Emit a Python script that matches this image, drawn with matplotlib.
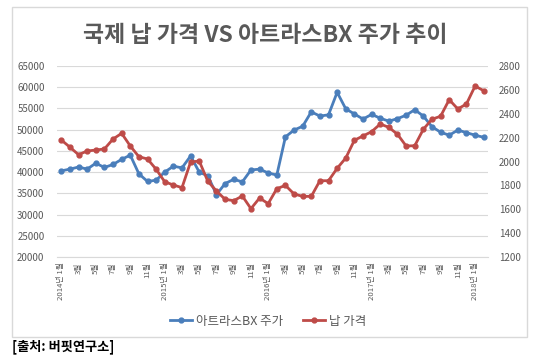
import matplotlib
matplotlib.use("Agg")
import matplotlib.pyplot as plt
from matplotlib.patches import Rectangle
from matplotlib.lines import Line2D

plt.rcParams['font.family'] = ['Noto Sans CJK KR', 'DejaVu Sans']

# ---- data ----
years = [2014, 2015, 2016, 2017, 2018]
months = []
for y in years:
    for m in range(1, 13):
        months.append((y, m))
months = months[:50]  # 2014-01 .. 2018-02
tick_labels = [f"{y}년 {m}월" if m == 1 else f"{m}월" for (y, m) in months]

atlas_bx = [40300, 40700, 41200, 40700, 42100, 41100, 41800, 43000, 44000, 39600,
            37800, 38100, 40000, 41400, 41000, 43800, 40000, 39100, 34700, 37300,
            38300, 37700, 40500, 40700, 39800, 39300, 48300, 49900, 50800, 54200,
            53200, 53500, 58800, 54900, 53700, 52500, 53600, 52700, 52000, 52600,
            53400, 54700, 53200, 50700, 49400, 48700, 49900, 49300, 48700, 48200]

lead_price = [2180, 2120, 2057, 2088, 2096, 2105, 2188, 2236, 2130, 2040,
              2021, 1935, 1830, 1803, 1781, 1996, 2004, 1834, 1753, 1683,
              1672, 1711, 1605, 1694, 1647, 1772, 1800, 1728, 1708, 1708,
              1839, 1839, 1943, 2029, 2178, 2214, 2250, 2314, 2286, 2228,
              2130, 2132, 2270, 2354, 2379, 2518, 2440, 2482, 2632, 2593]

series_names = ["아트라스BX 주가", "납 가격"]
title = "국제 납 가격 VS 아트라스BX 주가 추이"
source = "[출처: 버핏연구소]"

BLUE = "#4A7EBB"
RED = "#BE4B48"
GRID = "#D9D9D9"
TXT = "#595959"

W, H = 535, 355
fig = plt.figure(figsize=(W / 100, H / 100), dpi=100)

def fx(px):
    return px / W

def fy(py):
    return 1 - py / H

# chart border
fig.patches.append(Rectangle((fx(12), fy(337)), fx(527) - fx(12), fy(7) - fy(337),
                             transform=fig.transFigure, fill=False,
                             edgecolor=GRID, linewidth=1))

ax = fig.add_axes([fx(57), fy(257), fx(488) - fx(57), fy(66) - fy(257)])
ax2 = ax.twinx()

x = list(range(len(months)))
ax.plot(x, atlas_bx, color=BLUE, lw=2, marker='o', ms=3.5, zorder=3)
ax2.plot(x, lead_price, color=RED, lw=2, marker='o', ms=3.5, zorder=3)

ax.set_xlim(-0.5, len(months) - 0.5)
ax.set_ylim(20000, 65000)
ax.set_yticks(range(20000, 65001, 5000))
ax2.set_ylim(1200, 2800)
ax2.set_yticks(range(1200, 2801, 200))

ax.grid(axis='y', color=GRID, lw=0.8)
ax.set_axisbelow(True)

for a in (ax, ax2):
    for s in a.spines.values():
        s.set_visible(False)
ax.spines['bottom'].set_visible(True)
ax.spines['bottom'].set_color(GRID)

ax.tick_params(axis='y', length=0, labelsize=7, labelcolor=TXT, pad=9)
ax2.tick_params(axis='y', length=0, labelsize=7, labelcolor=TXT, pad=8)

ax.set_xticks(x[::2])
ax.set_xticklabels(tick_labels[::2], rotation=90, fontsize=5.6, color=TXT)
ax.tick_params(axis='x', length=0, pad=4)

fig.text(fx(265), fy(35), title, ha='center', va='center', fontsize=16.5,
         fontweight='bold', color=TXT)

handles = [Line2D([], [], color=BLUE, lw=2, marker='o', ms=3.5),
           Line2D([], [], color=RED, lw=2, marker='o', ms=3.5)]
fig.legend(handles, series_names, loc='center', bbox_to_anchor=(fx(268), fy(321)),
           ncol=2, frameon=False, fontsize=9, handlelength=1.8,
           handletextpad=0.3, columnspacing=1.6, labelcolor=TXT)

fig.text(fx(12), fy(347), source, ha='left', va='center', fontsize=9.5,
         fontweight='bold', color='black')

fig.savefig("out.png", dpi=100)
